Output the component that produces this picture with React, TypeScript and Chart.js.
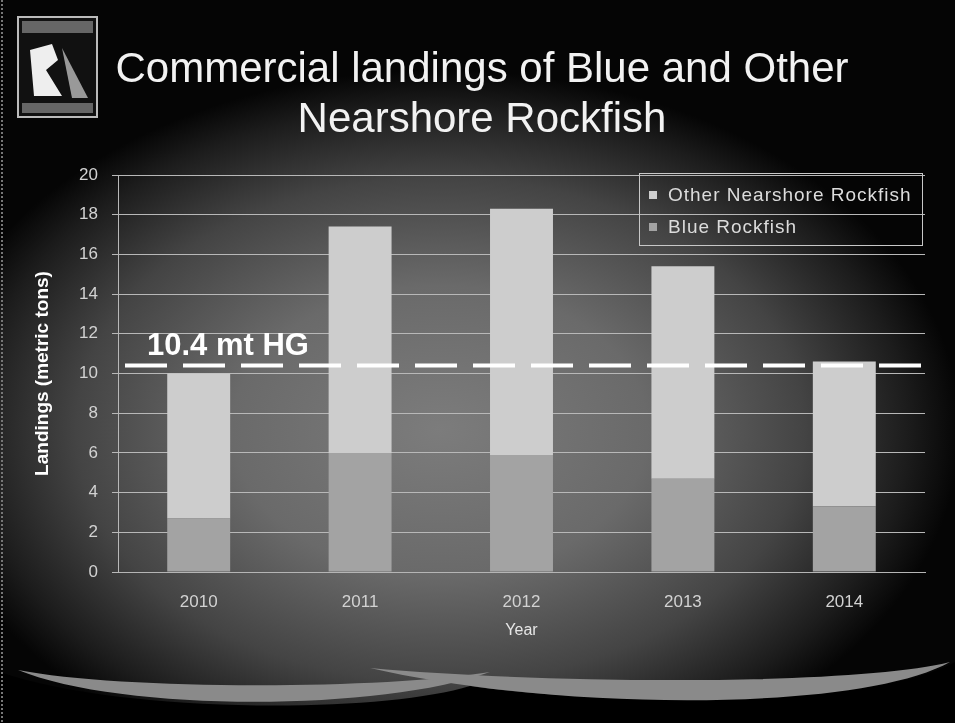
import React, { useEffect, useRef } from "react";
import { Chart, registerables } from "chart.js";

Chart.register(...registerables);

// ---- data ----
const years = ["2010", "2011", "2012", "2013", "2014"];
const blueRockfish = [2.7, 6.0, 5.9, 4.7, 3.3];
const otherNearshore = [7.3, 11.4, 12.4, 10.7, 7.3];
const seriesNames = ["Blue Rockfish", "Other Nearshore Rockfish"];
const seriesColors = ["#a3a3a3", "#cdcdcd"];
const yMin = 0;
const yMax = 20;
const yStep = 2;
const hgValue = 10.4;
const hgLabel = "10.4 mt HG";
const titleLines = ["Commercial landings of Blue and Other", "Nearshore Rockfish"];
const yTitle = "Landings (metric tons)";
const xTitle = "Year";

const FONT = '"Liberation Sans", Arial, Helvetica, sans-serif';

const hgPlugin = {
  id: "hgLine",
  afterDatasetsDraw(chart: any) {
    const { ctx, chartArea, scales } = chart;
    const py = scales.y.getPixelForValue(hgValue);
    ctx.save();
    ctx.strokeStyle = "#ffffff";
    ctx.lineWidth = 4;
    ctx.setLineDash([42, 16]);
    ctx.beginPath();
    ctx.moveTo(chartArea.left + 7, py);
    ctx.lineTo(chartArea.right, py);
    ctx.stroke();
    ctx.setLineDash([]);
    ctx.font = `bold 31px ${FONT}`;
    ctx.fillStyle = "#ffffff";
    ctx.textBaseline = "alphabetic";
    ctx.textAlign = "left";
    ctx.fillText(hgLabel, chartArea.left + 29, py - 11);
    ctx.restore();
  },
};

export default function App() {
  const canvasRef = useRef<HTMLCanvasElement | null>(null);

  useEffect(() => {
    if (!canvasRef.current) return;
    const chart = new Chart(canvasRef.current, {
      type: "bar",
      data: {
        labels: years,
        datasets: [
          {
            label: seriesNames[0],
            data: blueRockfish,
            backgroundColor: seriesColors[0],
            borderWidth: 0,
          },
          {
            label: seriesNames[1],
            data: otherNearshore,
            backgroundColor: seriesColors[1],
            borderWidth: 0,
          },
        ],
      },
      options: {
        responsive: false,
        animation: false,
        devicePixelRatio: 1,
        datasets: {
          bar: { categoryPercentage: 1, barPercentage: 0.39 },
        },
        layout: { padding: { left: 20, right: 30, top: 175, bottom: 71 } },
        plugins: {
          legend: { display: false },
          tooltip: { enabled: false },
          title: { display: false },
        },
        scales: {
          x: {
            stacked: true,
            afterFit: (s: any) => {
              s.height = 80;
            },
            grid: { display: false, drawTicks: false },
            border: { display: true, color: "#b5b5b5", width: 1 },
            ticks: {
              color: "#d2d2d2",
              font: { family: FONT, size: 17 },
              padding: 20,
            },
            title: {
              display: true,
              text: xTitle,
              color: "#e6e6e6",
              font: { family: FONT, size: 16 },
              padding: { top: 0, bottom: 12 },
            },
          },
          y: {
            stacked: true,
            min: yMin,
            max: yMax,
            afterFit: (s: any) => {
              s.width = 98;
            },
            grid: {
              color: "#b8b8b8",
              lineWidth: 1,
              tickLength: 6,
              drawTicks: true,
            },
            border: { display: true, color: "#b8b8b8", width: 1 },
            ticks: {
              stepSize: yStep,
              color: "#d2d2d2",
              font: { family: FONT, size: 17 },
              padding: 14,
            },
            title: {
              display: true,
              text: yTitle,
              color: "#ffffff",
              font: { family: FONT, size: 19, weight: "bold" },
              padding: { top: 11, bottom: 0 },
            },
          },
        },
      },
      plugins: [hgPlugin],
    });
    return () => chart.destroy();
  }, []);

  const legendOrder = [1, 0];

  return (
    <div
      style={{
        position: "fixed",
        left: 0,
        top: 0,
        width: 955,
        height: 723,
        overflow: "hidden",
        background:
          "radial-gradient(ellipse 520px 360px at 440px 430px, #7c7c7c 0%, #6a6a6a 40%, #444 70%, #1c1c1c 90%, #050505 100%)",
        fontFamily: FONT,
      }}
    >
      {/* bottom waves */}
      <svg
        width={955}
        height={723}
        style={{ position: "absolute", left: 0, top: 0 }}
      >
        <path
          d="M0,723 L0,672 C120,714 380,714 470,686 C560,700 860,714 955,662 L955,723 Z"
          fill="#000"
        />
        <path
          d="M18,670 C120,712 380,712 490,672 C380,690 120,690 18,670 Z"
          fill="#8a8a8a"
        />
        <path
          d="M370,668 C560,712 860,712 950,662 C860,685 560,685 370,668 Z"
          fill="#8a8a8a"
        />
        <line x1={2} y1={0} x2={2} y2={723} stroke="#777" strokeWidth={2} strokeDasharray="2 2" />
        {/* logo */}
        <rect x={18} y={17} width={79} height={100} fill="#111" stroke="#bbb" strokeWidth={2} />
        <rect x={22} y={21} width={71} height={12} fill="#666" />
        <rect x={22} y={103} width={71} height={10} fill="#666" />
        <path d="M30,50 L52,44 L58,60 L46,70 L62,96 L34,96 Z" fill="#eee" />
        <path d="M62,48 L88,98 L72,98 Z" fill="#999" />
      </svg>

      {/* title */}
      <div
        style={{
          position: "absolute",
          left: 0,
          top: 43,
          width: 964,
          textAlign: "center",
          color: "#f2f2f2",
          fontSize: 42,
          lineHeight: "50px",
          whiteSpace: "nowrap",
        }}
      >
        {titleLines.map((t, i) => (
          <div key={i}>{t}</div>
        ))}
      </div>

      <canvas
        ref={canvasRef}
        width={955}
        height={723}
        style={{ position: "absolute", left: 0, top: 0, width: 955, height: 723 }}
      />

      {/* legend */}
      <div
        style={{
          position: "absolute",
          left: 639,
          top: 173,
          width: 284,
          height: 73,
          border: "1px solid #c8c8c8",
          boxSizing: "border-box",
          paddingTop: 5,
          color: "#dcdcdc",
          fontSize: 19,
          letterSpacing: 1,
        }}
      >
        {legendOrder.map((idx) => (
          <div
            key={idx}
            style={{ display: "flex", alignItems: "center", height: 32, paddingLeft: 9 }}
          >
            <span
              style={{
                display: "inline-block",
                width: 8,
                height: 8,
                background: seriesColors[idx],
                marginRight: 11,
              }}
            />
            <span>{seriesNames[idx]}</span>
          </div>
        ))}
      </div>
    </div>
  );
}
